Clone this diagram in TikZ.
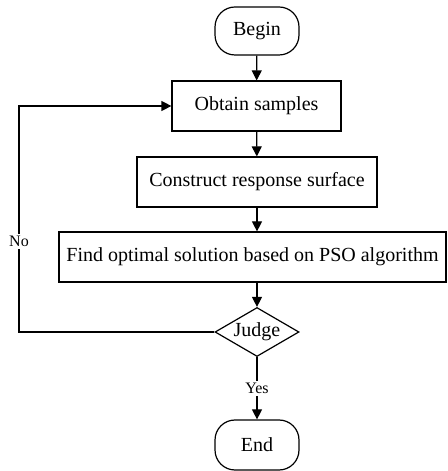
\documentclass[tikz,border=0pt]{standalone}
\usepackage{fontspec}
\setmainfont{Liberation Serif}
\usetikzlibrary{shapes.geometric,arrows.meta}

\tikzset{
  flow/.style={line width=0.6pt,-{Triangle[length=5pt,width=5pt]}},
  edge/.style={line width=0.6pt},
  stepbox/.style={draw,line width=0.6pt,rectangle,minimum height=25pt,inner sep=0pt},
  term/.style={draw,line width=0.6pt,rectangle,rounded corners=10pt,minimum width=42pt,minimum height=24pt,inner sep=0pt},
  judgebox/.style={draw,line width=0.6pt,diamond,aspect=1.7,inner sep=0pt,minimum width=42pt,minimum height=24.5pt},
  lbl/.style={fill=white,inner sep=1pt,font=\footnotesize}
}

\begin{document}
\begin{tikzpicture}[x=1pt,y=1pt]
\useasboundingbox (0,0) rectangle (223.5,235.5);

\node[term] (begin) at (128.5,220) {Begin};
\node[stepbox,minimum width=84.5pt] (obtain) at (128.25,182.5) {Obtain samples};
\node[stepbox,minimum width=120pt] (construct) at (128.5,144.5) {Construct response surface};
\node[stepbox,minimum width=193.5pt] (find) at (126.25,107) {Find optimal solution based on PSO algorithm};
\node[judgebox] (judge) at (128.5,69.5) {Judge};
\node[term,minimum height=25pt] (end) at (128.5,13) {End};
\coordinate (loop) at (9.5,69.5);

\draw[flow](begin) -- (obtain);
\draw[flow](obtain) -- (construct);
\draw[flow](construct.south) -- (construct.south |- find.north);
\draw[flow](find.south -| judge.north) -- (judge.north);
\draw[flow](judge) -- node[lbl]{Yes} (end);
\draw[flow](judge.west) -- (loop) |- node[lbl,pos=0.2]{No} (obtain.west);
\end{tikzpicture}
\end{document}
